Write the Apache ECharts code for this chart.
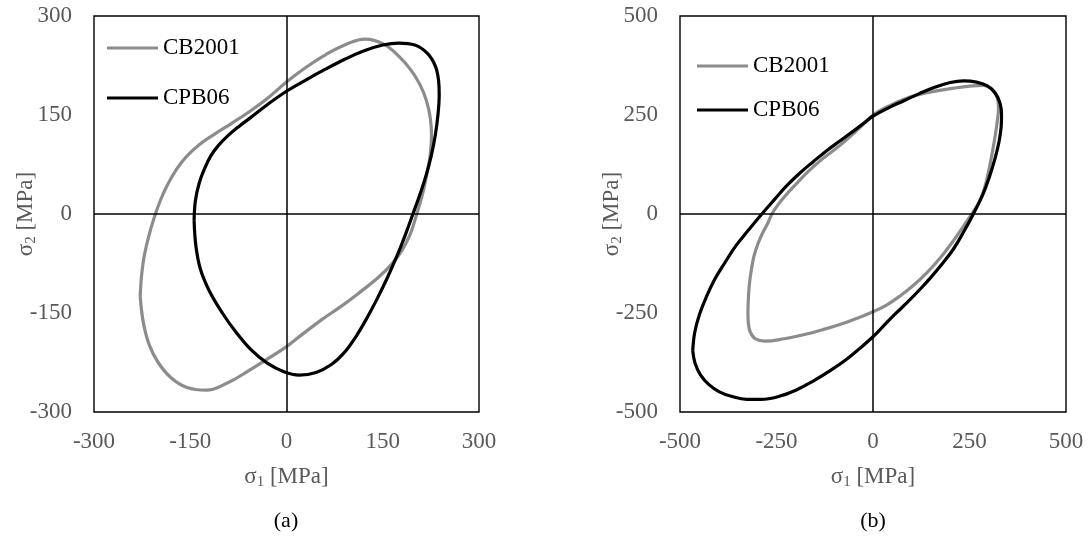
<!DOCTYPE html>
<html>
<head>
<meta charset="utf-8">
<script src="https://cdn.jsdelivr.net/npm/echarts@6/dist/echarts.min.js"></script>
<style>
  html, body { margin: 0; padding: 0; background: #fff; }
  #chart { width: 1088px; height: 547px; }
</style>
</head>
<body>
<div id="chart"></div>
<script>
// yield loci, [sigma1, sigma2] in MPa
let cb2001A = [[-228,-125],[-226,-95],[-222,-65],[-215,-35],[-206,-5],[-196,22],[-185,45],[-172,67],[-156,87],[-136,105],[-112,121],[-86,137],[-58,155],[-30,175],[0,200],[30,222],[62,242],[95,258],[122,265],[152,257],[176,238],[194,218],[208,196],[218,172],[224,146],[226,118],[224,90],[219,62],[212,30],[203,0],[193,-30],[180,-55],[164,-76],[142,-97],[115,-118],[85,-140],[55,-160],[25,-182],[0,-201],[-30,-220],[-60,-238],[-90,-255],[-125,-267],[-155,-263],[-180,-248],[-200,-225],[-214,-198],[-223,-165],[-228,-125]];
let cpb06A = [[-144,-10],[-142,20],[-136,47],[-128,68],[-118,88],[-106,104],[-92,118],[-75,132],[-56,146],[-28,167],[0,186],[30,203],[60,219],[90,234],[120,247],[150,256],[175,259],[200,256],[220,243],[232,224],[237,202],[238,180],[236,150],[232,120],[226,90],[218,60],[208,30],[197,0],[185,-32],[172,-64],[157,-97],[141,-129],[124,-160],[108,-186],[90,-210],[70,-228],[46,-240],[20,-244],[-4,-239],[-30,-226],[-55,-206],[-78,-180],[-100,-150],[-120,-117],[-134,-84],[-141,-50],[-144,-10]];
let cb2001B = [[-324,-250],[-323,-215],[-320,-175],[-315,-140],[-308,-105],[-298,-75],[-286,-48],[-272,-22],[-262,0],[-245,25],[-222,52],[-195,80],[-165,110],[-130,140],[-95,166],[-60,195],[-30,222],[0,250],[40,272],[80,290],[120,302],[165,311],[210,318],[250,323],[285,325],[305,318],[318,302],[324,285],[325,265],[322,235],[317,200],[310,160],[302,120],[293,80],[282,45],[268,18],[256,0],[235,-30],[208,-68],[175,-110],[140,-148],[105,-180],[70,-207],[35,-230],[0,-247],[-35,-261],[-80,-277],[-130,-292],[-180,-305],[-230,-315],[-280,-321],[-305,-315],[-318,-298],[-323,-275],[-324,-250]];
let cpb06B = [[-467,-345],[-462,-300],[-450,-255],[-432,-210],[-410,-165],[-385,-125],[-355,-80],[-322,-40],[-288,0],[-255,37],[-224,71],[-190,103],[-155,132],[-120,160],[-85,185],[-50,210],[-20,232],[0,247],[40,268],[80,286],[120,304],[160,320],[200,332],[235,336],[268,333],[295,324],[316,306],[329,280],[333,250],[332,220],[326,180],[316,140],[302,95],[285,50],[260,0],[235,-45],[208,-89],[180,-125],[150,-160],[122,-190],[90,-222],[55,-255],[25,-285],[0,-310],[-35,-340],[-70,-368],[-110,-395],[-155,-422],[-200,-445],[-245,-461],[-290,-468],[-327,-468],[-365,-461],[-398,-449],[-425,-431],[-447,-406],[-461,-377],[-467,-345]];
let ticksA = [-300, 300, 150];
let ticksB = [-500, 500, 250];
let names = ['CB2001', 'CPB06'];

let myChart = echarts.init(document.getElementById('chart'));
let font = 'Liberation Serif, Times New Roman, serif';
let grey = '#595959';

let nameRich = {
    s: {fontSize: 23, fontFamily: font, color: grey, lineHeight: 26},
    sub: {fontSize: 15, fontFamily: font, color: grey, verticalAlign: 'bottom', lineHeight: 16}
};

let makeAxis = function (ticks, idx, isX) {
    return {
        type: 'value',
        gridIndex: idx,
        min: ticks[0],
        max: ticks[1],
        interval: ticks[2],
        name: isX ? '{s|σ}{sub|1}{s| [MPa]}' : '{s|σ}{sub|2}{s| [MPa]}',
        nameLocation: 'middle',
        nameGap: isX ? 52 : 55,
        nameMoveOverlap: false,
        nameTextStyle: {rich: nameRich},
        axisLine: {show: false},
        axisTick: {show: false},
        splitLine: {show: false},
        axisLabel: {
            margin: isX ? 18 : 22,
            fontSize: 23,
            fontFamily: font,
            color: grey
        }
    };
};

let zeroLines = {
    silent: true,
    symbol: 'none',
    label: {show: false},
    lineStyle: {color: '#000', width: 1.5, type: 'solid'},
    data: [{xAxis: 0}, {yAxis: 0}]
};

let makeSeries = function (name, data, idx, color, withZero) {
    let s = {
        name: name,
        type: 'line',
        xAxisIndex: idx,
        yAxisIndex: idx,
        data: data,
        smooth: 0.4,
        symbol: 'none',
        lineStyle: {color: color, width: 3.2},
        itemStyle: {color: color},
        z: color === '#000' ? 3 : 2
    };
    if (withZero) {
        s.markLine = zeroLines;
    }
    return s;
};

let legendBase = function (left, top, gap) {
    return {
        data: names,
        orient: 'vertical',
        left: left,
        top: top,
        icon: 'rect',
        itemWidth: 51,
        itemHeight: 3,
        itemGap: gap,
        textStyle: {fontSize: 23, fontFamily: font, color: '#000', lineHeight: 24}
    };
};

let option = {
    animation: false,
    backgroundColor: '#fff',
    grid: [
        {left: 94, top: 16, width: 385, height: 396, show: true, borderColor: '#000', borderWidth: 1.4, backgroundColor: 'transparent'},
        {left: 680, top: 16, width: 386, height: 396, show: true, borderColor: '#000', borderWidth: 1.4, backgroundColor: 'transparent'}
    ],
    xAxis: [makeAxis(ticksA, 0, true), makeAxis(ticksB, 1, true)],
    yAxis: [makeAxis(ticksA, 0, false), makeAxis(ticksB, 1, false)],
    legend: [legendBase(102, 31, 26), legendBase(692, 49, 20)],
    series: [
        makeSeries('CB2001', cb2001A, 0, '#8c8c8c', true),
        makeSeries('CPB06', cpb06A, 0, '#000', false),
        makeSeries('CB2001', cb2001B, 1, '#8c8c8c', true),
        makeSeries('CPB06', cpb06B, 1, '#000', false)
    ],
    graphic: [
        {type: 'text', x: 286, y: 521, style: {text: '(a)', fill: '#000', font: '22px ' + font, textAlign: 'center', textVerticalAlign: 'middle'}},
        {type: 'text', x: 873, y: 521, style: {text: '(b)', fill: '#000', font: '22px ' + font, textAlign: 'center', textVerticalAlign: 'middle'}}
    ]
};
myChart.setOption(option);
</script>
</body>
</html>
